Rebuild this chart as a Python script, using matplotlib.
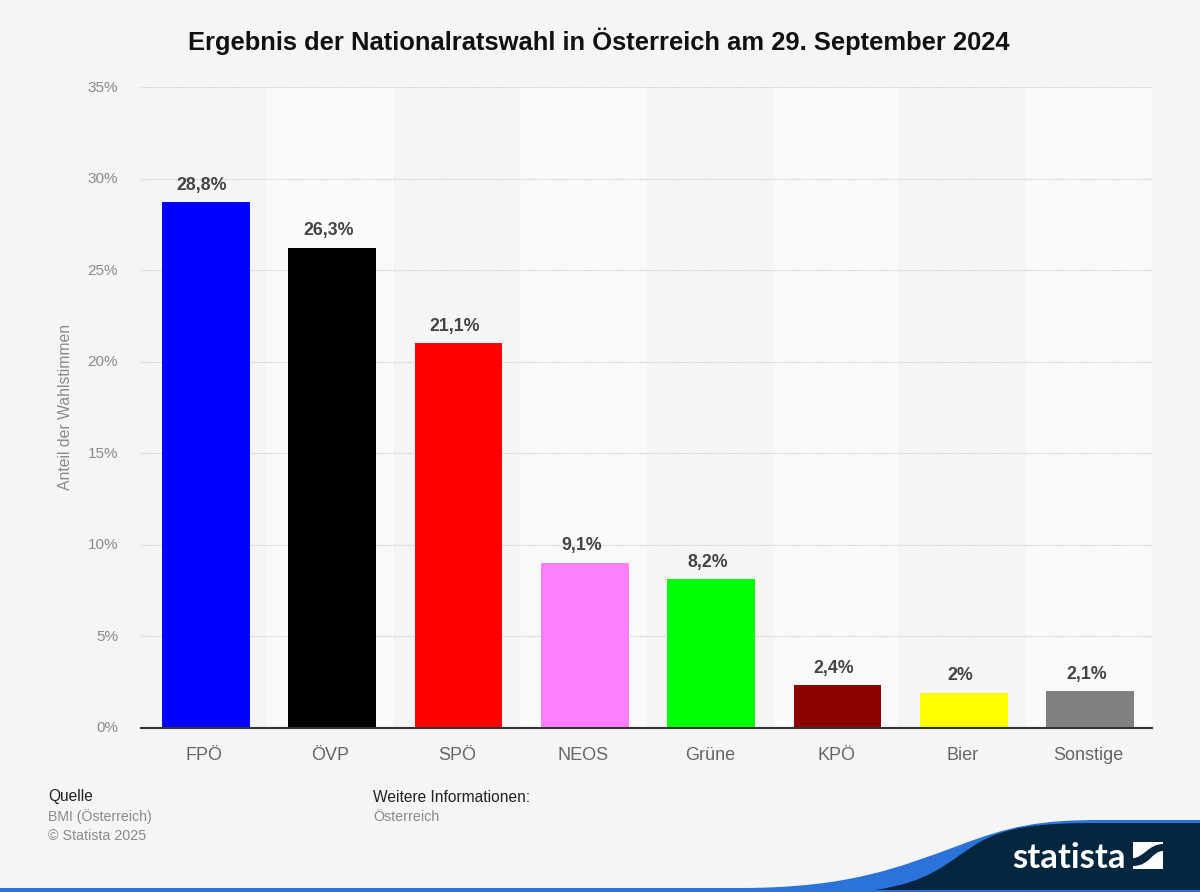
import matplotlib.pyplot as plt
from matplotlib.patches import PathPatch, Rectangle
from matplotlib.path import Path
from matplotlib.transforms import ScaledTranslation

plt.rcParams['font.family'] = ['Liberation Sans', 'DejaVu Sans']

parties = ['FPÖ', 'ÖVP', 'SPÖ', 'NEOS', 'Grüne', 'KPÖ', 'Bier', 'Sonstige']
shares = [28.8, 26.3, 21.1, 9.1, 8.2, 2.4, 2.0, 2.1]
share_labels = ['28,8%', '26,3%', '21,1%', '9,1%', '8,2%', '2,4%', '2%', '2,1%']
colors = ['#0000ff', '#000000', '#ff0000', '#ff80ff', '#00ff00', '#8b0000', '#ffff00', '#808080']
yticks = [0, 5, 10, 15, 20, 25, 30, 35]

C4 = Path.CURVE4


def main():
    W, H = 1200, 892
    bg = '#f5f5f5'
    navy = '#04263e'
    blue = '#2b72d9'
    fig = plt.figure(figsize=(W/100, H/100), dpi=100, facecolor=bg)

    # plot area in pixels: x 141..1152, y 87..728
    ax = fig.add_axes([141/W, 1 - 728/H, (1152 - 141)/W, (728 - 87)/H], facecolor=bg)
    ax.set_xlim(-0.5, len(parties) - 0.5)
    ax.set_ylim(0, 35)

    # alternating bands
    for i in range(len(parties)):
        if i % 2 == 1:
            ax.axvspan(i - 0.5, i + 0.5, color='#fafafa', lw=0, zorder=0)

    for t in yticks[1:]:
        ax.axhline(t, color='#c4c4c4', lw=0.8, ls=(0, (1, 1.2)), zorder=1)

    # bars sit about 1.5 px right of the band centres and 1 px low in the original
    xpos = [i + 0.012 for i in range(len(parties))]
    ax.bar(xpos, shares, width=0.695, bottom=-0.07, color=colors, zorder=2)

    for i, (v, lab) in enumerate(zip(shares, share_labels)):
        ax.annotate(lab, (i, v), xytext=(-1.5, 5), textcoords='offset points',
                    ha='center', va='bottom', fontsize=12.8, fontweight='bold',
                    color='#444444', zorder=3)

    for s in ['top', 'left', 'right']:
        ax.spines[s].set_visible(False)
    ax.spines['bottom'].set_color('#333333')
    ax.spines['bottom'].set_linewidth(1.5)
    ax.spines['bottom'].set_zorder(4)

    ax.set_xticks(range(len(parties)))
    ax.set_xticklabels(parties, fontsize=13, color='#666666')
    ax.tick_params(axis='x', length=0, pad=13.6)
    ax.set_yticks(yticks)
    ax.set_yticklabels([f'{t}%' for t in yticks], fontsize=11, color='#8a8a8a')
    ax.tick_params(axis='y', length=0, pad=16.5)
    up = ScaledTranslation(0, 1/100, fig.dpi_scale_trans)
    for tick in ax.yaxis.get_major_ticks():
        tick.label1.set_transform(tick.label1.get_transform() + up)

    fig.text(66/W, 1 - 407/H, 'Anteil der Wahlstimmen', rotation=90, ha='center', va='center',
             fontsize=11.3, color='#8a8a8a')
    fig.text(599/W, 1 - 41/H, 'Ergebnis der Nationalratswahl in Österreich am 29. September 2024',
             ha='center', va='center', fontsize=18.35, fontweight='bold', color='#111111')

    # source block
    fig.text(48/W, 1 - 797/H, 'Quelle', va='center', fontsize=11.2, color='#222222')
    fig.text(48/W, 1 - 817/H, 'BMI (Österreich)', va='center', fontsize=10.2, color='#8a8a8a')
    fig.text(48/W, 1 - 836/H, '© Statista 2025', va='center', fontsize=10.3, color='#8a8a8a')
    fig.text(373/W, 1 - 797/H, 'Weitere Informationen:', va='center', fontsize=11.2, color='#222222')
    fig.text(373/W, 1 - 817/H, 'Österreich', va='center', fontsize=10.3, color='#8a8a8a')

    # logo and footer strip, drawn in pixel coordinates
    ov = fig.add_axes([0, 0, 1, 1], facecolor='none')
    ov.set_xlim(0, W)
    ov.set_ylim(H, 0)
    ov.axis('off')

    ov.add_patch(Rectangle((0, 888), W, 3.5, color=blue, lw=0))
    swoosh = Path([(740, 888), (850, 888), (900, 867), (960, 845), (1010, 826), (1040, 820), (1100, 820),
                   (W, 820), (W, 891), (740, 891), (740, 888)],
                  [Path.MOVETO, C4, C4, C4, C4, C4, C4, Path.LINETO, Path.LINETO, Path.LINETO, Path.CLOSEPOLY])
    ov.add_patch(PathPatch(swoosh, fc=blue, ec='none'))
    dark = Path([(875, 890), (930, 882), (945, 864), (975, 845), (1005, 826), (1040, 823), (1100, 823),
                 (W, 823), (W, 890), (875, 890), (875, 890)],
                [Path.MOVETO, C4, C4, C4, C4, C4, C4, Path.LINETO, Path.LINETO, Path.LINETO, Path.CLOSEPOLY])
    ov.add_patch(PathPatch(dark, fc=navy, ec='none'))

    ov.text(1012, 868, 'statista', color='white', fontsize=25, fontweight='bold', va='baseline', ha='left',
            family='Lato')
    ov.add_patch(Rectangle((1133, 842), 30, 27, color='white', lw=0))
    wave = Path([(1133, 858), (1143, 858), (1149, 844), (1163, 844), (1163, 851), (1152, 851), (1150, 866), (1133, 866), (1133, 858)],
                [Path.MOVETO, C4, C4, C4, Path.LINETO, C4, C4, C4, Path.CLOSEPOLY])
    ov.add_patch(PathPatch(wave, fc=navy, ec='none'))

    fig.savefig('out.png', dpi=100, facecolor=bg)


if __name__ == '__main__':
    main()
